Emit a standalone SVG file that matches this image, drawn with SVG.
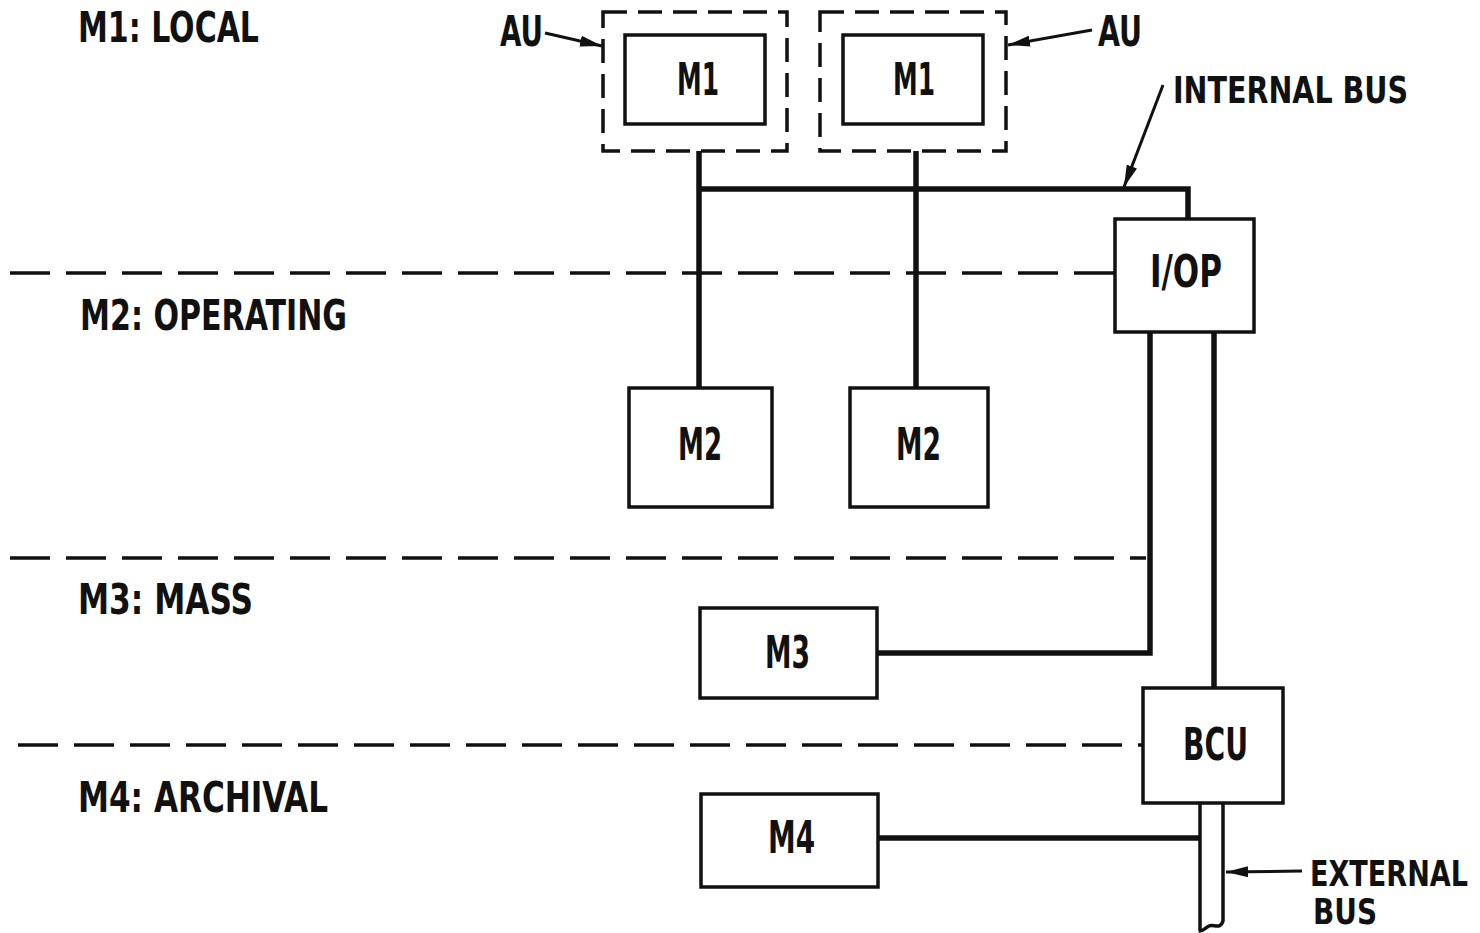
<svg xmlns="http://www.w3.org/2000/svg" width="1480" height="933" viewBox="0 0 1480 933">
<defs>
<style>
.t{font-family:"DejaVu Sans Condensed","Liberation Sans Narrow","Liberation Sans",sans-serif;font-weight:bold;fill:#111;}
.lbl{font-size:43px;}
.sm{font-size:38px;}
.xs{font-size:35px;}
.nd{font-size:45px;}
.box{fill:#fff;stroke:#111;stroke-width:3.5;}
.au{fill:none;stroke:#111;stroke-width:3.5;stroke-dasharray:24 11;}
.sep{fill:none;stroke:#111;stroke-width:3.5;stroke-dasharray:40 16;}
.bus{fill:none;stroke:#111;stroke-width:5.5;}
.ext{fill:none;stroke:#111;stroke-width:3.5;}
.ptr{fill:none;stroke:#111;stroke-width:3;}
</style>
<marker id="ah" viewBox="0 0 20 10" refX="20" refY="5" markerWidth="22" markerHeight="11" markerUnits="userSpaceOnUse" orient="auto">
<path d="M0,0 L20,5 L0,10 z" fill="#111"/>
</marker>
</defs>
<rect width="1480" height="933" fill="#fff"/>

<g id="separators">
<line class="sep" x1="10" y1="273" x2="1115" y2="273"/>
<line class="sep" x1="10" y1="558" x2="1146" y2="558"/>
<line class="sep" x1="18" y1="745" x2="1143" y2="745"/>
</g>

<g id="level-labels">
<text class="t lbl" x="78" y="42" textLength="181" lengthAdjust="spacingAndGlyphs">M1: LOCAL</text>
<text class="t lbl" x="80" y="330" textLength="267" lengthAdjust="spacingAndGlyphs">M2: OPERATING</text>
<text class="t lbl" x="78" y="614" textLength="175" lengthAdjust="spacingAndGlyphs">M3: MASS</text>
<text class="t lbl" x="78" y="812" textLength="250" lengthAdjust="spacingAndGlyphs">M4: ARCHIVAL</text>
</g>

<g id="connectors">
<path class="bus" d="M699,151 V388 M916,151 V388 M699,189 H1188 V219"/>
<path class="bus" d="M1150,332 V653 H877 M1214,332 V688"/>
<path class="bus" d="M878,838 H1200"/>
<path class="ext" d="M1200,803 V931 M1223,803 V921 C1220,930 1214,924 1209,926 C1205,928 1202,932 1199,931"/>
<line class="ptr" x1="545" y1="33" x2="602" y2="46" marker-end="url(#ah)"/>
<line class="ptr" x1="1092" y1="30" x2="1008" y2="45" marker-end="url(#ah)"/>
<line class="ptr" x1="1163" y1="85" x2="1124" y2="187" marker-end="url(#ah)"/>
<line class="ptr" x1="1302" y1="871" x2="1226" y2="872" marker-end="url(#ah)"/>
</g>

<g id="au-left">
<rect class="au" x="603" y="12" width="184" height="139"/>
<text class="t lbl" x="500" y="46" textLength="43" lengthAdjust="spacingAndGlyphs">AU</text>
</g>
<g id="au-right">
<rect class="au" x="820" y="12" width="186" height="139"/>
<text class="t lbl" x="1098" y="46" textLength="44" lengthAdjust="spacingAndGlyphs">AU</text>
</g>

<g id="m1-left">
<rect class="box" x="625" y="35" width="140" height="89"/>
<text class="t nd" x="677" y="95" textLength="42" lengthAdjust="spacingAndGlyphs">M1</text>
</g>
<g id="m1-right">
<rect class="box" x="843" y="35" width="140" height="89"/>
<text class="t nd" x="893" y="95" textLength="42" lengthAdjust="spacingAndGlyphs">M1</text>
</g>

<g id="internal-bus-label">
<text class="t sm" x="1173" y="103" textLength="235" lengthAdjust="spacingAndGlyphs">INTERNAL BUS</text>
</g>

<g id="iop">
<rect class="box" x="1115" y="219" width="139" height="113"/>
<text class="t nd" x="1150" y="287" textLength="72" lengthAdjust="spacingAndGlyphs">I/OP</text>
</g>

<g id="m2-left">
<rect class="box" x="629" y="388" width="143" height="119"/>
<text class="t nd" x="678" y="460" textLength="44" lengthAdjust="spacingAndGlyphs">M2</text>
</g>
<g id="m2-right">
<rect class="box" x="850" y="388" width="138" height="119"/>
<text class="t nd" x="896" y="460" textLength="45" lengthAdjust="spacingAndGlyphs">M2</text>
</g>

<g id="m3">
<rect class="box" x="700" y="608" width="177" height="90"/>
<text class="t nd" x="765" y="668" textLength="45" lengthAdjust="spacingAndGlyphs">M3</text>
</g>

<g id="bcu">
<rect class="box" x="1143" y="688" width="140" height="115"/>
<text class="t nd" x="1183" y="760" textLength="65" lengthAdjust="spacingAndGlyphs">BCU</text>
</g>

<g id="m4">
<rect class="box" x="701" y="794" width="177" height="93"/>
<text class="t nd" x="768" y="853" textLength="47" lengthAdjust="spacingAndGlyphs">M4</text>
</g>

<g id="external-bus-label">
<text class="t xs" x="1310" y="886" textLength="158" lengthAdjust="spacingAndGlyphs">EXTERNAL</text>
<text class="t xs" x="1313" y="924" textLength="64" lengthAdjust="spacingAndGlyphs">BUS</text>
</g>
</svg>
